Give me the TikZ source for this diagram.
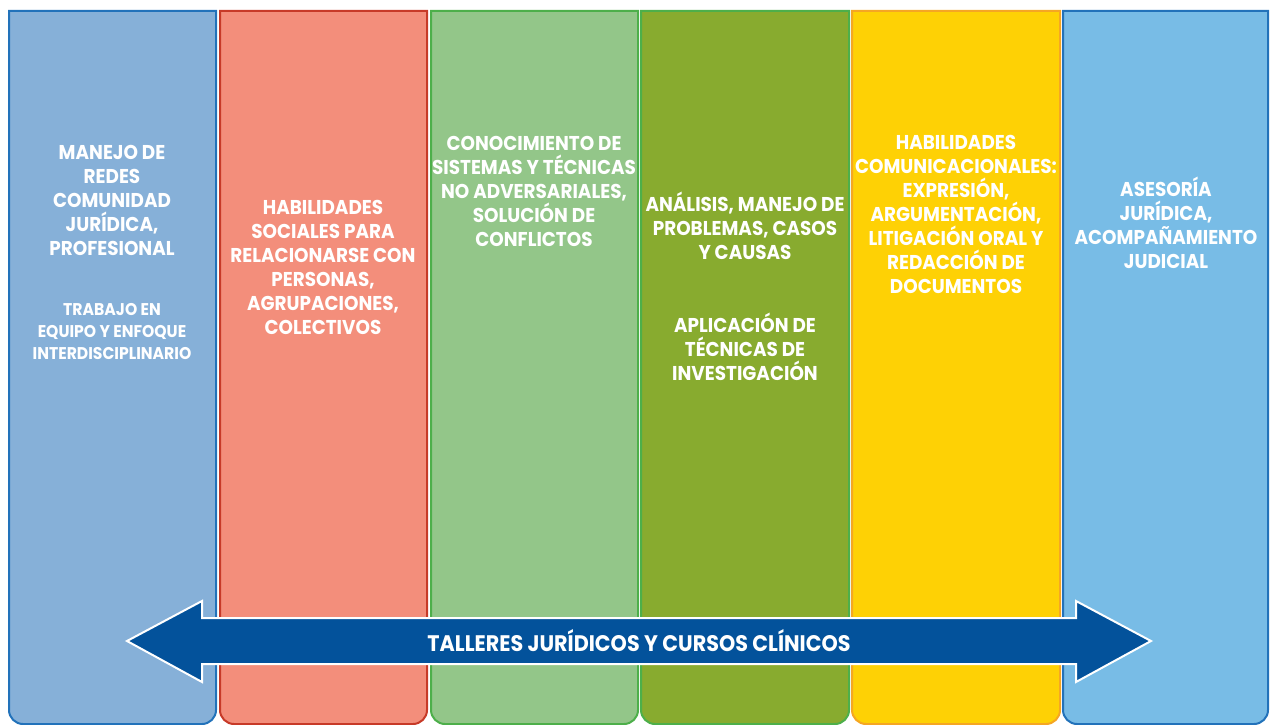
\documentclass[tikz,border=0pt]{standalone}
\usepackage{fontspec}
\setmainfont{Poppins}[FakeStretch=0.92]
\usetikzlibrary{positioning}
\definecolor{redesfill}{RGB}{134,176,216}
\definecolor{redesline}{RGB}{34,114,186}
\definecolor{socialfill}{RGB}{243,142,123}
\definecolor{socialline}{RGB}{199,58,40}
\definecolor{conflfill}{RGB}{147,198,137}
\definecolor{conflline}{RGB}{77,175,74}
\definecolor{analfill}{RGB}{136,171,47}
\definecolor{analline}{RGB}{77,175,74}
\definecolor{comfill}{RGB}{254,209,5}
\definecolor{comline}{RGB}{245,166,35}
\definecolor{asesfill}{RGB}{120,188,230}
\definecolor{asesline}{RGB}{34,114,186}
\definecolor{bandcolor}{RGB}{3,82,155}

\begin{document}
\begin{tikzpicture}[
    x=1pt, y=-1pt,
    column/.style={line width=2pt, draw=#1},
    lbl/.style={text=white, align=center, inner sep=0pt, font=\bfseries\fontsize{20}{24}\selectfont},
    small/.style={lbl, font=\bfseries\fontsize{17}{22}\selectfont},
    band/.style={fill=bandcolor, draw=white, line width=2pt, line join=miter}
]
    \useasboundingbox (0,0) rectangle (1270,725);

    % Columns
    \foreach \xa/\xb/\fc/\dc in {9/216/redesfill/redesline, 220/427/socialfill/socialline,
        431/638/conflfill/conflline, 641/849/analfill/analline,
        852/1060/comfill/comline, 1063/1268/asesfill/asesline}
        \draw[column=\dc, fill=\fc] (\xa,11) -- (\xa,400) {[rounded corners=14pt] -- (\xa,724) -- (\xb,724) -- (\xb,400)} -- (\xb,11) -- cycle;

    % Column texts
    \node[lbl] (redes) at (112,200) {MANEJO DE\\REDES\\COMUNIDAD\\JURÍDICA,\\PROFESIONAL};
    \node[small] (equipo) at (112,332) {TRABAJO EN\\EQUIPO Y ENFOQUE\\INTERDISCIPLINARIO};
    \node[lbl] (social) at (323,267) {HABILIDADES\\SOCIALES PARA\\RELACIONARSE CON\\PERSONAS,\\AGRUPACIONES,\\COLECTIVOS};
    \node[lbl] (confl) at (534,191) {CONOCIMIENTO DE\\SISTEMAS Y TÉCNICAS\\NO ADVERSARIALES,\\SOLUCIÓN DE\\CONFLICTOS};
    \node[lbl] (anal) at (745,226) {ANÁLISIS, MANEJO DE\\PROBLEMAS, CASOS\\Y CAUSAS};
    \node[lbl] (invest) at (745,347) {APLICACIÓN DE\\TÉCNICAS DE\\INVESTIGACIÓN};
    \node[lbl] (comun) at (956,214) {HABILIDADES\\COMUNICACIONALES:\\EXPRESIÓN,\\ARGUMENTACIÓN,\\LITIGACIÓN ORAL Y\\REDACCIÓN DE\\DOCUMENTOS};
    \node[lbl] (ases) at (1166,223) {ASESORÍA\\JURÍDICA,\\ACOMPAÑAMIENTO\\JUDICIAL};

    % Double arrow
    \draw[band] (127,641) -- (202,601) -- (202,618) -- (1076,618) -- (1076,601) -- (1151,641)
        -- (1076,682) -- (1076,664) -- (202,664) -- (202,682) -- cycle;
    \node[lbl, font=\bfseries\fontsize{22.5}{26}\selectfont] (talleres) at (639,641) {TALLERES JURÍDICOS Y CURSOS CLÍNICOS};
\end{tikzpicture}
\end{document}
